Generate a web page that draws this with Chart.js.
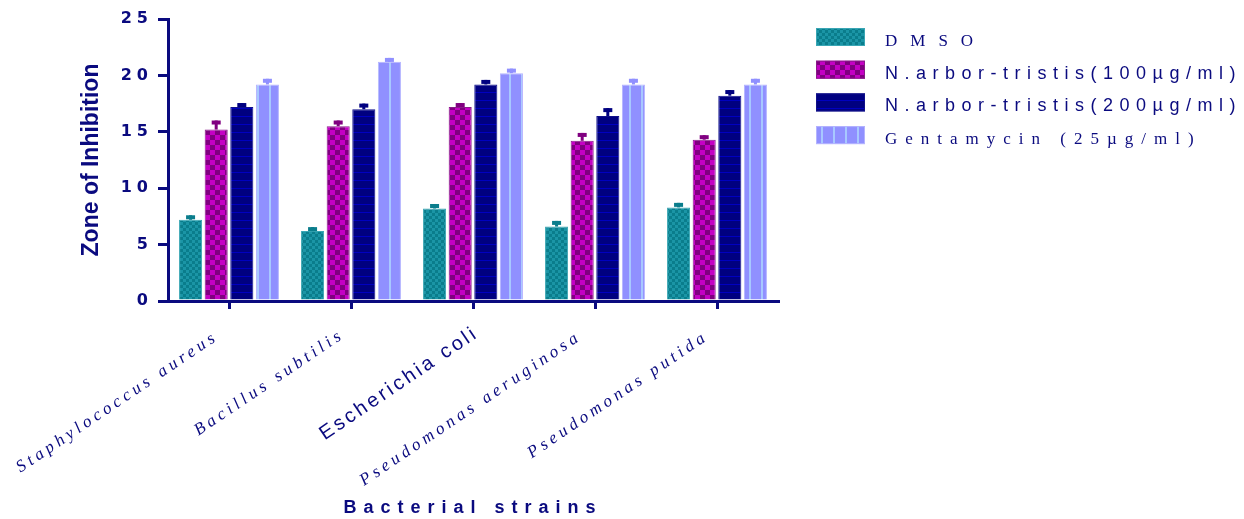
<!DOCTYPE html>
<html>
<head>
<meta charset="utf-8">
<script src="https://cdn.jsdelivr.net/npm/chart.js@4.4.1/dist/chart.umd.min.js"></script>
<style>
    html, body { margin: 0; background: #fff; }
    #wrap { width: 1244px; height: 519px; }
</style>
</head>
<body>
<div id="wrap"><canvas id="zoneChart"></canvas></div>
<script>
// data
const strains = ["Staphylococcus aureus", "Bacillus subtilis", "Escherichia coli", "Pseudomonas aeruginosa", "Pseudomonas putida"];
const seriesNames = ["DMSO", "N.arbor-tristis(100µg/ml)", "N.arbor-tristis(200µg/ml)", "Gentamycin (25µg/ml)"];
const dmso = [7.2, 6.2, 8.2, 6.6, 8.3];
const dmsoErr = [0.4, 0.35, 0.4, 0.5, 0.4];
const nat100 = [15.2, 15.5, 17.2, 14.2, 14.3];
const nat100Err = [0.8, 0.5, 0.35, 0.7, 0.4];
const nat200 = [17.2, 17.0, 19.2, 16.4, 18.2];
const nat200Err = [0.35, 0.5, 0.4, 0.7, 0.5];
const gentamycin = [19.2, 21.2, 20.2, 19.2, 19.2];
const gentamycinErr = [0.5, 0.35, 0.4, 0.5, 0.5];
const yTicks = [0, 5, 10, 15, 20, 25];

const navy = "#0a0a7f";

function makePattern(w, h, base, draw) {
    const c = document.createElement("canvas");
    c.width = w;
    c.height = h;
    const p = c.getContext("2d");
    p.fillStyle = base;
    p.fillRect(0, 0, w, h);
    draw(p);
    return p.createPattern(c, "repeat");
}

const tealFill = makePattern(6, 6, "#0a7d8c", function (p) {
    p.fillStyle = "#1b95a6";
    p.fillRect(0, 0, 3, 3);
    p.fillRect(3, 3, 3, 3);
});
const purpleFill = makePattern(10, 10, "#800080", function (p) {
    p.fillStyle = "#c400c4";
    p.fillRect(0, 0, 5, 5);
    p.fillRect(5, 5, 5, 5);
});
const navyFill = makePattern(8, 8, "#000080", function (p) {
    p.fillStyle = "#0000c0";
    p.fillRect(0, 4, 8, 1);
});
const lightFill = makePattern(12, 12, "#9090ff", function (p) {
    p.fillStyle = "#a8c8ff";
    p.fillRect(5, 0, 2, 12);
});

// legend fonts (the original mixes serif and sans)
const legendFonts = [
    { font: '17px "Liberation Serif"', spacing: "13px" },
    { font: '18px "Liberation Sans"', spacing: "6.5px" },
    { font: '18px "Liberation Sans"', spacing: "6.5px" },
    { font: '17px "Liberation Serif"', spacing: "8px" }
];
const labelFonts = [
    { font: 'italic 17px "Liberation Serif"', spacing: "4px", dx: -17, dy: 27 },
    { font: 'italic 17px "Liberation Serif"', spacing: "4px", dx: -13, dy: 25 },
    { font: '20px "Liberation Sans"', spacing: "3px", dx: -2, dy: 22 },
    { font: 'italic 17px "Liberation Serif"', spacing: "4px", dx: -20, dy: 27 },
    { font: 'italic 17px "Liberation Serif"', spacing: "4px", dx: -15, dy: 27 }
];

function withSpacing(obj, names, spacing) {
    names.forEach(function (name) {
        const orig = obj[name];
        obj[name] = function () {
            const ctx = this.ctx;
            const prev = ctx.letterSpacing;
            ctx.letterSpacing = spacing;
            const result = orig.apply(this, arguments);
            ctx.letterSpacing = prev;
            return result;
        };
    });
}

const letterSpacingPlugin = {
    id: "letterSpacing",
    beforeUpdate(chart) {
        if (chart.$spaced || !chart.scales.y) return;
        chart.$spaced = true;
        withSpacing(chart.scales.y, ["update", "drawLabels"], "5px");
        withSpacing(chart.scales.x, ["drawTitle"], "7px");
    }
};

const errorBars = {
    id: "errorBars",
    afterDatasetsDraw(chart) {
        const ctx = chart.ctx;
        const y = chart.scales.y;
        ctx.save();
        chart.data.datasets.forEach(function (ds, i) {
            const meta = chart.getDatasetMeta(i);
            ctx.fillStyle = ds.errColor;
            meta.data.forEach(function (bar, j) {
                const top = y.getPixelForValue(ds.data[j] + ds.errors[j]);
                ctx.fillRect(bar.x - 1.5, top, 3, bar.y - top);
                ctx.fillRect(bar.x - 4.5, top, 9, 4);
            });
        });
        ctx.restore();
    }
};

const sideTexts = {
    id: "sideTexts",
    afterDraw(chart) {
        const ctx = chart.ctx;
        const x = chart.scales.x;
        const area = chart.chartArea;
        ctx.save();
        ctx.fillStyle = navy;

        // rotated strain names
        strains.forEach(function (name, i) {
            const st = labelFonts[i];
            ctx.save();
            ctx.translate(x.getPixelForTick(i) + st.dx, area.bottom + st.dy);
            ctx.rotate(-34 * Math.PI / 180);
            ctx.font = st.font;
            ctx.letterSpacing = st.spacing;
            ctx.textAlign = "right";
            ctx.textBaseline = "top";
            ctx.fillText(name, 0, 0);
            ctx.restore();
        });

        // legend
        const lx = area.right + 38;
        chart.data.datasets.forEach(function (ds, i) {
            const top = area.top + 9 + i * 32.7;
            ctx.fillStyle = ds.backgroundColor;
            ctx.fillRect(lx, top, 49, 18);
            ctx.strokeStyle = ds.borderColor;
            ctx.lineWidth = 1;
            ctx.strokeRect(lx + 0.5, top + 0.5, 48, 17);
            ctx.fillStyle = navy;
            ctx.font = legendFonts[i].font;
            ctx.letterSpacing = legendFonts[i].spacing;
            ctx.textAlign = "left";
            ctx.textBaseline = "alphabetic";
            ctx.fillText(ds.label, lx + 69, top + 18);
        });
        ctx.restore();
    }
};

const canvas = document.getElementById("zoneChart");

new Chart(canvas, {
    type: "bar",
    data: {
        labels: strains,
        datasets: [
            { label: seriesNames[0], data: dmso, errors: dmsoErr, backgroundColor: tealFill, borderColor: "#3aa6b4", errColor: "#0a7d8c" },
            { label: seriesNames[1], data: nat100, errors: nat100Err, backgroundColor: purpleFill, borderColor: "#8a1a8a", errColor: "#800080" },
            { label: seriesNames[2], data: nat200, errors: nat200Err, backgroundColor: navyFill, borderColor: "#10108a", errColor: "#000080" },
            { label: seriesNames[3], data: gentamycin, errors: gentamycinErr, backgroundColor: lightFill, borderColor: "#b4b4ff", errColor: "#9090ff" }
        ].map(function (ds) {
            return Object.assign(ds, { borderWidth: 1, barPercentage: 0.9, categoryPercentage: 0.84 });
        })
    },
    options: {
        responsive: true,
        maintainAspectRatio: false,
        animation: false,
        layout: { padding: { top: 19, right: 466, left: 0, bottom: 0 } },
        plugins: {
            legend: { display: false },
            tooltip: { enabled: false }
        },
        scales: {
            x: {
                offset: true,
                grid: { drawOnChartArea: false, offset: false, color: navy, lineWidth: 3, tickLength: 8 },
                border: { color: navy, width: 3 },
                ticks: { display: false },
                title: {
                    display: true,
                    text: "Bacterial strains",
                    color: navy,
                    font: { family: "Liberation Sans", size: 18, weight: "bold" },
                    padding: { top: 0, bottom: 0 }
                },
                afterFit: function (scale) { scale.height = 218; }
            },
            y: {
                min: yTicks[0],
                max: yTicks[yTicks.length - 1],
                grid: { drawOnChartArea: false, color: navy, lineWidth: 3, tickLength: 10 },
                border: { color: navy, width: 3 },
                ticks: {
                    stepSize: yTicks[1] - yTicks[0],
                    color: navy,
                    padding: 5,
                    font: { family: "DejaVu Sans", size: 16, weight: "bold" }
                },
                title: {
                    display: true,
                    text: "Zone of Inhibition",
                    color: navy,
                    font: { family: "Liberation Sans", size: 23, weight: "bold" },
                    padding: { top: 78, bottom: 0 }
                },
                afterFit: function (scale) { scale.width = 168; }
            }
        }
    },
    plugins: [letterSpacingPlugin, errorBars, sideTexts]
});
</script>
</body>
</html>
